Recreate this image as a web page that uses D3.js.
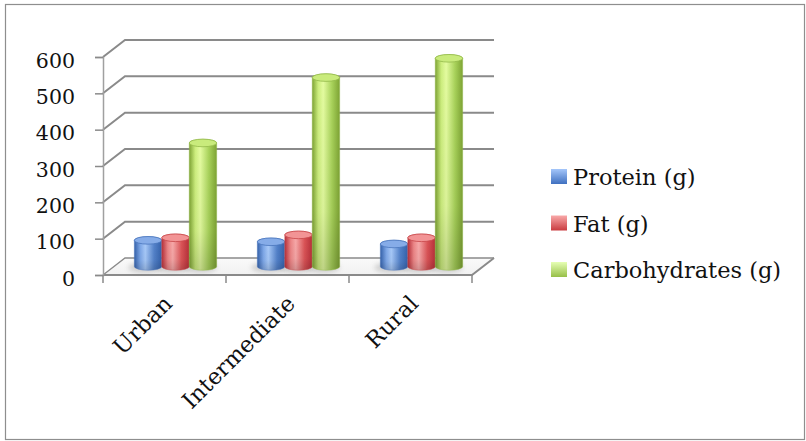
<!DOCTYPE html>
<html>
<head>
<meta charset="utf-8">
<script src="https://cdn.jsdelivr.net/npm/d3@7/dist/d3.min.js"></script>
<style>
  html, body { margin: 0; padding: 0; background: #fff; }
  svg { display: block; }
  text { font-family: "DejaVu Serif", "Liberation Serif", serif; fill: #111; }
</style>
</head>
<body>
<svg id="chart" width="806" height="441"></svg>
<script>
// Daily nutrient intake by area type
const categories = ["Urban", "Intermediate", "Rural"];
const seriesNames = ["Protein (g)", "Fat (g)", "Carbohydrates (g)"];
const protein = [72, 68, 62];
const fat = [79, 87, 79];
const carbohydrates = [340, 520, 573];
const yTicks = [0, 100, 200, 300, 400, 500, 600];

const seriesValues = [protein, fat, carbohydrates];
const palette = [
  { edge: "#3563ad", mid: "#7fa9ea", hi: "#a9cbfb", right: "#5483cc", top: "#86ace8", rim: "#4a76bd", sw0: "#a4c6fa", sw1: "#3f70c0" },
  { edge: "#b8303a", mid: "#ee8788", hi: "#f9aaaa", right: "#dc5457", top: "#f29495", rim: "#c8474a", sw0: "#f9a9a9", sw1: "#c93b3f" },
  { edge: "#7ea434", mid: "#cdee7e", hi: "#e4fca0", right: "#a8d25a", top: "#c9eb7c", rim: "#93b94a", sw0: "#e6ffb4", sw1: "#97bf48" }
];

const svg = d3.select("#chart");
const defs = svg.append("defs");

// plot frame (front plane) and depth offset of the back wall
const left = 103, right = 472, depthX = 22, depthY = -17;

const x = d3.scaleBand().domain(categories).range([left, right]).paddingInner(0).paddingOuter(0);
const inner = d3.scaleBand().domain(seriesNames).range([0, x.bandwidth()]).paddingInner(0).paddingOuter(0.74);
const y = d3.scaleLinear().domain([0, 600]).range([275, 57]);

// outer border
svg.append("rect")
  .attr("x", 5.5).attr("y", 4.5).attr("width", 799).attr("height", 435)
  .attr("fill", "#fff").attr("stroke", "#8e8e8e").attr("stroke-width", 1.2);

// floor
const floorGrad = defs.append("linearGradient").attr("id", "floorGrad")
  .attr("x1", 0).attr("y1", 0).attr("x2", 0).attr("y2", 1);
floorGrad.append("stop").attr("offset", "0%").attr("stop-color", "#fafafa");
floorGrad.append("stop").attr("offset", "100%").attr("stop-color", "#f1f1f1");

const y0 = y(0);
svg.append("path")
  .attr("d", `M${left},${y0} L${left + depthX},${y0 + depthY} L${right + depthX},${y0 + depthY} L${right},${y0} Z`)
  .attr("fill", "url(#floorGrad)");

// gridlines across the side and back walls
const grid = svg.append("g").attr("fill", "none").attr("stroke", "#8a8a8a").attr("stroke-width", 2);
yTicks.forEach(t => {
  const yy = y(t);
  grid.append("path")
    .attr("d", `M${left},${yy} L${left + depthX},${yy + depthY} L${right + depthX},${yy + depthY}`)
    .attr("stroke-width", t === 0 ? 1.3 : 2);
});

// floor front and right edges
svg.append("path")
  .attr("d", `M${left},${y0} L${right},${y0} L${right + depthX},${y0 + depthY}`)
  .attr("fill", "none").attr("stroke", "#8a8a8a").attr("stroke-width", 2);

// value axis
const yAxis = svg.append("g")
  .attr("transform", `translate(${left},0)`)
  .call(d3.axisLeft(y).tickValues(yTicks).tickSize(8).tickPadding(20).tickFormat(d3.format("d")));
yAxis.select(".domain").attr("stroke", "#a0a0a0").attr("stroke-width", 1.5);
yAxis.selectAll(".tick line").attr("stroke", "#8a8a8a").attr("stroke-width", 1.5);
yAxis.selectAll(".tick text")
  .attr("font-family", "DejaVu Serif").attr("font-size", 20.5).attr("fill", "#111")
  .attr("dy", "0.5em");

// category tick marks at band boundaries
const bounds = categories.map(c => x(c)).concat([right]);
svg.append("g").selectAll("line").data(bounds).join("line")
  .attr("x1", d => d).attr("x2", d => d)
  .attr("y1", y0).attr("y2", y0 + 8)
  .attr("stroke", "#8a8a8a").attr("stroke-width", 1.5);

// gradients for cylinders
palette.forEach((p, i) => {
  const g = defs.append("linearGradient").attr("id", "cyl" + i)
    .attr("x1", 0).attr("y1", 0).attr("x2", 1).attr("y2", 0);
  g.append("stop").attr("offset", "0%").attr("stop-color", p.edge);
  g.append("stop").attr("offset", "22%").attr("stop-color", p.mid);
  g.append("stop").attr("offset", "40%").attr("stop-color", p.hi);
  g.append("stop").attr("offset", "72%").attr("stop-color", p.right);
  g.append("stop").attr("offset", "100%").attr("stop-color", p.edge);

  const s = defs.append("linearGradient").attr("id", "sw" + i)
    .attr("x1", 0).attr("y1", 0).attr("x2", 0).attr("y2", 1);
  s.append("stop").attr("offset", "0%").attr("stop-color", p.sw0);
  s.append("stop").attr("offset", "100%").attr("stop-color", p.sw1);
});
const shade = defs.append("linearGradient").attr("id", "shade")
  .attr("x1", 0).attr("y1", 0).attr("x2", 0).attr("y2", 1);
shade.append("stop").attr("offset", "0%").attr("stop-color", "#000").attr("stop-opacity", 0);
shade.append("stop").attr("offset", "70%").attr("stop-color", "#000").attr("stop-opacity", 0.04);
shade.append("stop").attr("offset", "100%").attr("stop-color", "#000").attr("stop-opacity", 0.16);

defs.append("filter").attr("id", "soft").attr("x", "-50%").attr("y", "-50%").attr("width", "200%").attr("height", "200%")
  .append("feGaussianBlur").attr("stdDeviation", 2.5);

// cylinders
const rx = inner.bandwidth() / 2, ry = 3.8;
const bars = [];
categories.forEach((c, ci) => {
  seriesNames.forEach((s, si) => {
    bars.push({ c, s, si, v: seriesValues[si][ci] });
  });
});

const cylPath = (cx, yt, yb) =>
  `M${cx - rx},${yt} L${cx - rx},${yb} A${rx},${ry} 0 0 0 ${cx + rx},${yb} L${cx + rx},${yt} A${rx},${ry} 0 0 0 ${cx - rx},${yt} Z`;

const barLayer = svg.append("g");
// soft floor shadows
barLayer.selectAll(".shadow").data(bars).join("ellipse")
  .attr("class", "shadow")
  .attr("cx", d => x(d.c) + inner(d.s) + rx + depthX / 2 - 3)
  .attr("cy", y0 + depthY / 2 + 1)
  .attr("rx", rx + 3).attr("ry", ry + 1.5)
  .attr("fill", "#7a7a7a").attr("opacity", 0.3)
  .attr("filter", "url(#soft)");

const cyl = barLayer.selectAll(".cyl").data(bars).join("g").attr("class", "cyl");
cyl.each(function (d) {
  const g = d3.select(this);
  const cx = x(d.c) + inner(d.s) + rx + depthX / 2;
  const yb = y(0) + depthY / 2;
  const yt = y(d.v) + depthY / 2;
  const p = palette[d.si];
  g.append("path").attr("d", cylPath(cx, yt, yb)).attr("fill", `url(#cyl${d.si})`);
  g.append("path").attr("d", cylPath(cx, yt, yb)).attr("fill", "url(#shade)")
    .attr("stroke", p.rim).attr("stroke-width", 0.6).attr("stroke-opacity", 0.7);
  g.append("ellipse").attr("cx", cx).attr("cy", yt).attr("rx", rx).attr("ry", ry)
    .attr("fill", p.top).attr("stroke", p.rim).attr("stroke-width", 0.8);
});

// category labels
svg.append("g").selectAll("text").data(categories).join("text")
  .attr("transform", d => `translate(${x(d) + x.bandwidth() / 2 + 9},${y0 + 30}) rotate(-45)`)
  .attr("text-anchor", "end")
  .attr("font-size", 22.5)
  .text(d => d);

// legend
const legend = svg.append("g").selectAll("g").data(seriesNames).join("g")
  .attr("transform", (d, i) => `translate(551,${185 + i * 46.5})`);
legend.append("rect")
  .attr("x", 0).attr("y", -16).attr("width", 16).attr("height", 15)
  .attr("fill", (d, i) => `url(#sw${i})`);
legend.append("text")
  .attr("x", 22).attr("y", 0)
  .attr("font-size", 22.5)
  .text(d => d);
</script>
</body>
</html>
